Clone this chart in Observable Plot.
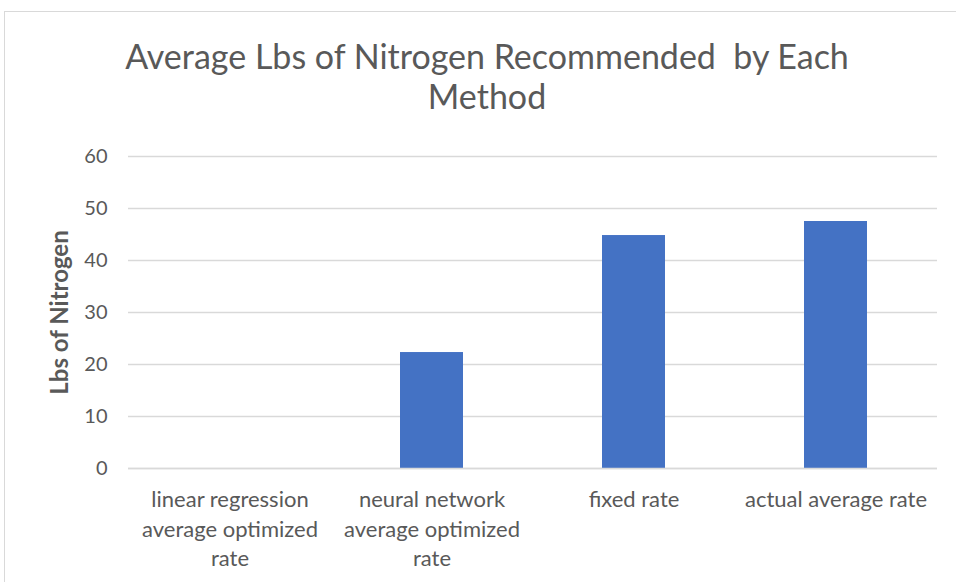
<!DOCTYPE html>
<html>
<head>
<meta charset="utf-8">
<script src="https://cdn.jsdelivr.net/npm/d3@7"></script>
<script src="https://cdn.jsdelivr.net/npm/@observablehq/plot@0.6"></script>
<style>
  html, body { margin: 0; padding: 0; background: #fff; }
  body { width: 956px; height: 582px; overflow: hidden; position: relative; font-family: Lato, "Open Sans", sans-serif; }
  #frame { position: absolute; left: 4px; top: 11px; width: 1000px; height: 700px; border: 1px solid #d9d9d9; box-sizing: border-box; }
  #title { position: absolute; left: 87px; width: 800px; top: 36px; text-align: center; font-size: 34px; line-height: 40px; color: #595959; white-space: nowrap; }
  #chart { position: absolute; left: 0; top: 130px; }
</style>
</head>
<body>
<div id="frame"></div>
<div id="title">Average Lbs of Nitrogen Recommended&nbsp; by Each<br>Method</div>
<div id="chart"></div>
<script>
const categories = [
  "linear regression average optimized rate",
  "neural network average optimized rate",
  "fixed rate",
  "actual average rate"
];
const values = [0, 22.3, 44.8, 47.5];
const yTicks = [0, 10, 20, 30, 40, 50, 60];
const tickLabels = [
  "linear regression\naverage optimized\nrate",
  "neural network\naverage optimized\nrate",
  "fixed rate",
  "actual average rate"
];
const yLabel = "Lbs of Nitrogen";

const data = categories.map((c, i) => ({category: c, value: values[i]}));
const labelOf = new Map(categories.map((c, i) => [c, tickLabels[i]]));

const chart = Plot.plot({
  width: 956,
  height: 452,
  marginTop: 26,
  marginBottom: 114,
  marginLeft: 128,
  marginRight: 19,
  style: {fontFamily: "Lato, 'Open Sans', sans-serif", fontSize: "20px", color: "#595959", background: "transparent"},
  x: {domain: categories, paddingInner: 0.69, paddingOuter: 0.345},
  y: {domain: [0, 60]},
  marks: [
    Plot.gridY(yTicks, {stroke: "#d9d9d9", strokeOpacity: 1, strokeWidth: 1.5}),
    Plot.barY(data, {x: "category", y: "value", fill: "#4472C4"}),
    Plot.ruleY([0], {stroke: "#d9d9d9", strokeWidth: 1.5}),
    Plot.axisY(yTicks, {tickSize: 0, tickPadding: 21, fontSize: 20, fill: "#595959", label: null}),
    Plot.axisX({tickSize: 0, tickPadding: 18, fontSize: 22, fill: "#595959", label: null,
      lineHeight: 1.34, tickFormat: d => labelOf.get(d)}),
    Plot.text([yLabel], {frameAnchor: "left", textAnchor: "middle", rotate: -90, dx: -68, fontSize: 24, fontWeight: "bold", fill: "#595959"})
  ]
});
document.getElementById("chart").appendChild(chart);
</script>
</body>
</html>
